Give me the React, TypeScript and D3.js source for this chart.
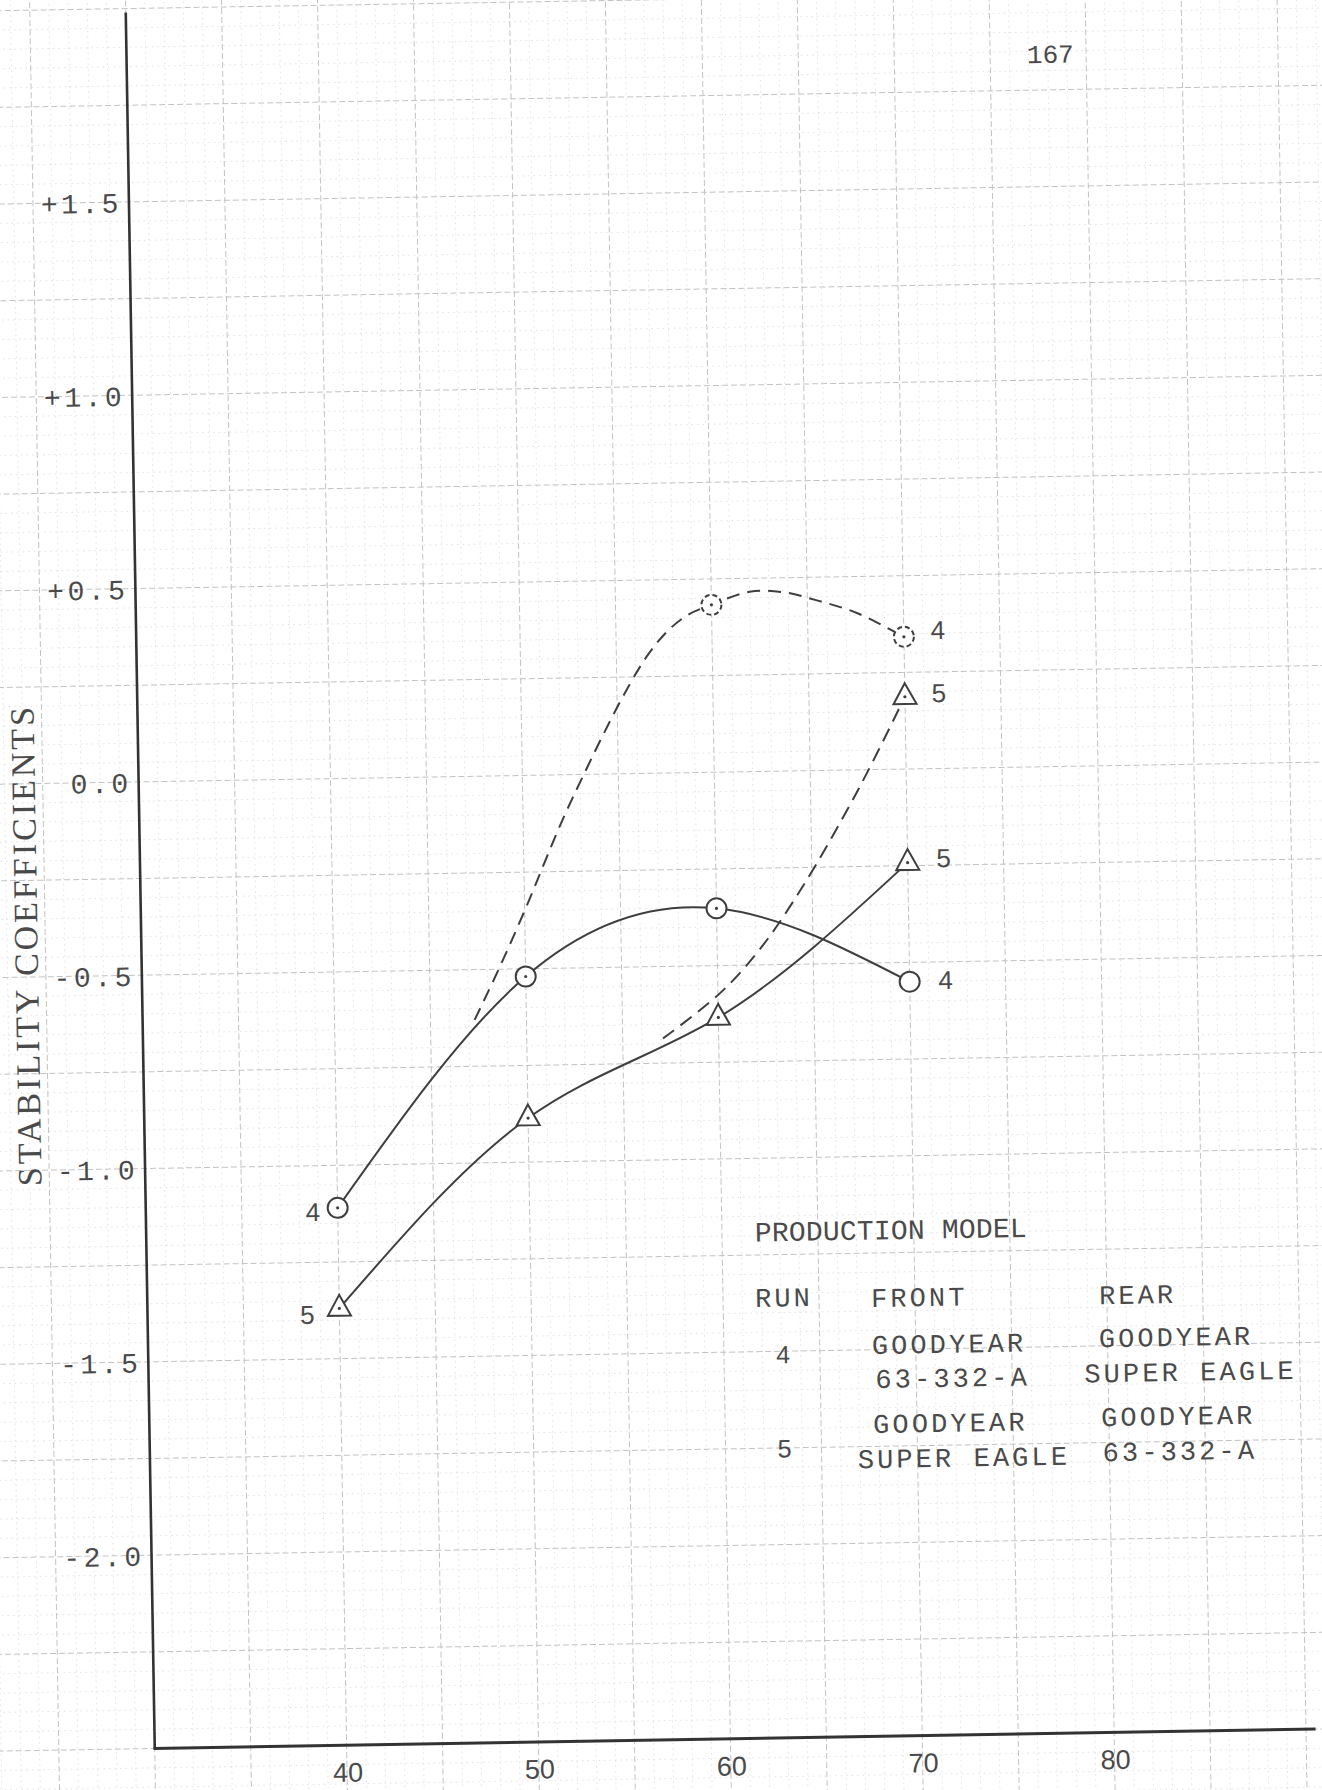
import React from 'react';
import * as d3 from 'd3';

// ---- data ----
const speeds = [40, 50, 60, 70];
const run4Solid = [-1.11, -0.52, -0.352, -0.55];
const run5Solid = [-1.37, -0.886, -0.634, -0.242];
const run4DashedSpeeds = [60, 70];
const run4Dashed = [0.433, 0.342];
const run5DashedSpeeds = [70];
const run5Dashed = [0.187];
// hand-faired dashed curves
const run4TraceX = [47.3, 48.6, 50, 52.6, 56.7, 58.5, 60, 62, 63.7, 65.5, 67.6, 70];
const run4TraceY = [-0.63, -0.5, -0.35, -0.06, 0.31, 0.4, 0.433, 0.465, 0.463, 0.44, 0.405, 0.342];
const run5TraceX = [57.1, 60.1, 62.2, 64.5, 67.5, 70];
const run5TraceY = [-0.686, -0.572, -0.461, -0.3, -0.05, 0.187];

const yTicks = [1.5, 1.0, 0.5, 0.0, -0.5, -1.0, -1.5, -2.0];
const yTickLabels = ['+1.5', '+1.0', '+0.5', '0.0', '-0.5', '-1.0', '-1.5', '-2.0'];
const xTicks = [40, 50, 60, 70, 80];
const xTickLabels = ['40', '50', '60', '70', '80'];
const yAxisTitle = 'STABILITY COEFFICIENTS';
const pageNumber = '167';
const legendTitle = 'PRODUCTION MODEL';
const legendHeaders = ['RUN', 'FRONT', 'REAR'];
const legendRuns = ['4', '5'];
const legendFront = [['GOODYEAR', '63-332-A'], ['GOODYEAR', 'SUPER EAGLE']];
const legendRear = [['GOODYEAR', 'SUPER EAGLE'], ['GOODYEAR', '63-332-A']];

const W = 1322;
const H = 1790;
const INK = '#3e3e3e';
const TEXT = '#4a4a4a';
const MONO = '"Liberation Mono", "DejaVu Sans Mono", monospace';
const HAND = '"Liberation Sans", "DejaVu Sans", sans-serif';

export default function App() {
  const x = d3.scaleLinear().domain([30, 90]).range([142.3, 1293.7]);
  const y = d3.scaleLinear().domain([-2.5, 2.0]).range([1743.45, 3.3]);

  const smooth = d3
    .line<[number, number]>()
    .x((d) => x(d[0]))
    .y((d) => y(d[1]))
    .curve(d3.curveNatural);
  const fair = d3
    .line<[number, number]>()
    .x((d) => x(d[0]))
    .y((d) => y(d[1]))
    .curve(d3.curveCatmullRom.alpha(0.5));

  const pts = (xs: number[], ys: number[]) => xs.map((v, i) => [v, ys[i]] as [number, number]);

  // graph paper grid
  const vLines: { u: number; major: boolean }[] = [];
  for (let i = 20; i <= 93; i++) vLines.push({ u: i, major: i % 5 === 0 });
  const hLines: { v: number; major: boolean }[] = [];
  for (let i = -55; i <= 45; i++) hLines.push({ v: i * 0.05, major: i % 5 === 0 });
  const gx0 = x(19), gx1 = x(93.5), gy0 = y(2.3), gy1 = y(-2.75);

  const circle = (cx: number, cy: number, key: string, dashed = false, dot = true) => (
    <g key={key}>
      <circle cx={cx} cy={cy} r={10} fill="#fff" stroke={INK} strokeWidth={2} strokeDasharray={dashed ? '5 3' : undefined} />
      {dot && <circle cx={cx} cy={cy} r={1.6} fill={INK} />}
    </g>
  );
  const tri = (cx: number, cy: number, key: string) => (
    <g key={key}>
      <path
        d={`M${cx},${cy - 13.5} L${cx - 11.5},${cy + 7.3} L${cx + 11.5},${cy + 7.3} Z`}
        fill="#fff"
        stroke={INK}
        strokeWidth={2}
        strokeLinejoin="miter"
      />
      <circle cx={cx} cy={cy} r={1.6} fill={INK} />
    </g>
  );

  const legendFontSize = 27;
  const legendLS = 3.1;

  return (
    <svg
      width={W}
      height={H}
      viewBox={`0 0 ${W} ${H}`}
      style={{ position: 'absolute', left: 0, top: 0, background: '#fff' }}
    >
      <rect x={0} y={0} width={W} height={H} fill="#fff" />
      <g transform="rotate(-0.957 450 1000)">
        {/* grid */}
        <g>
          {vLines.map((l) => (
            <line
              key={'v' + l.u}
              x1={x(l.u)}
              x2={x(l.u)}
              y1={gy0}
              y2={gy1}
              stroke={l.major ? '#c2c2c2' : '#dedede'}
              strokeWidth={l.major ? 1 : 0.9}
              strokeDasharray={l.major ? '6 3' : '1.5 4'}
            />
          ))}
          {hLines.map((l) => (
            <line
              key={'h' + l.v.toFixed(2)}
              x1={gx0}
              x2={gx1}
              y1={y(l.v)}
              y2={y(l.v)}
              stroke={l.major ? '#c2c2c2' : '#dedede'}
              strokeWidth={l.major ? 1 : 0.9}
              strokeDasharray={l.major ? '6 3' : '1.5 4'}
            />
          ))}
        </g>

        {/* axes */}
        <line x1={x(30)} x2={x(30)} y1={y(1.99)} y2={y(-2.5)} stroke="#333" strokeWidth={2.6} />
        <line x1={x(30) - 1.3} x2={x(90.5)} y1={y(-2.5)} y2={y(-2.5)} stroke="#333" strokeWidth={3} />

        {/* y tick labels */}
        {yTicks.map((t, i) => (
          <text
            key={'yt' + i}
            x={x(30) - 7}
            y={y(t) + 3}
            textAnchor="end"
            dominantBaseline="central"
            fontFamily={MONO}
            fontSize={28}
            letterSpacing={3.5}
            fill={TEXT}
          >
            {yTickLabels[i]}
          </text>
        ))}

        {/* x tick labels */}
        {xTicks.map((t, i) => (
          <text
            key={'xt' + i}
            x={x(t) + 1}
            y={1771}
            textAnchor="middle"
            dominantBaseline="central"
            fontFamily={HAND}
            fontSize={27}
            fill={TEXT}
          >
            {xTickLabels[i]}
          </text>
        ))}

        {/* y axis title */}
        <text
          transform={`translate(27, 938) rotate(-90)`}
          textAnchor="middle"
          dominantBaseline="central"
          fontFamily='"Liberation Serif", "DejaVu Serif", serif'
          fontSize={34}
          letterSpacing={3}
          fill={TEXT}
        >
          {yAxisTitle}
        </text>

        {/* page number */}
        <text x={1066} y={66} textAnchor="middle" dominantBaseline="central" fontFamily={MONO} fontSize={26} fill={TEXT}>
          {pageNumber}
        </text>

        {/* curves */}
        <path d={smooth(pts(speeds, run4Solid)) || ''} fill="none" stroke={INK} strokeWidth={2} />
        <path d={smooth(pts(speeds, run5Solid)) || ''} fill="none" stroke={INK} strokeWidth={2} />
        <path d={fair(pts(run4TraceX, run4TraceY)) || ''} fill="none" stroke={INK} strokeWidth={2} strokeDasharray="13 8" />
        <path d={fair(pts(run5TraceX, run5TraceY)) || ''} fill="none" stroke={INK} strokeWidth={2} strokeDasharray="14 8" />

        {/* markers */}
        {speeds.map((s, i) => circle(x(s), y(run4Solid[i]), 'c4' + i, false, i < 3))}
        {speeds.map((s, i) => tri(x(s), y(run5Solid[i]), 't5' + i))}
        {run4DashedSpeeds.map((s, i) => circle(x(s), y(run4Dashed[i]), 'cd4' + i, true, true))}
        {run5DashedSpeeds.map((s, i) => tri(x(s), y(run5Dashed[i]), 'td5' + i))}

        {/* run labels next to markers */}
        <g fontFamily={HAND} fontSize={26} fill={TEXT} dominantBaseline="central" textAnchor="middle">
          <text x={x(speeds[0]) - 25} y={y(run4Solid[0]) + 4}>{legendRuns[0]}</text>
          <text x={x(speeds[0]) - 32} y={y(run5Solid[0]) + 6}>{legendRuns[1]}</text>
          <text x={x(70) + 34} y={y(run4Dashed[1]) - 6}>{legendRuns[0]}</text>
          <text x={x(70) + 34} y={y(run5Dashed[0]) - 3}>{legendRuns[1]}</text>
          <text x={x(70) + 36} y={y(run5Solid[3]) - 4}>{legendRuns[1]}</text>
          <text x={x(70) + 36} y={y(run4Solid[3]) - 1}>{legendRuns[0]}</text>
        </g>

        {/* legend */}
        <g fontFamily={MONO} fill={TEXT} dominantBaseline="central">
          <text x={751} y={1239} fontSize={28} letterSpacing={0.2}>{legendTitle}</text>
          <g fontSize={legendFontSize} letterSpacing={legendLS}>
            <text x={750} y={1305}>{legendHeaders[0]}</text>
            <text x={866} y={1307}>{legendHeaders[1]}</text>
            <text x={1094} y={1308}>{legendHeaders[2]}</text>

            <text x={866} y={1354}>{legendFront[0][0]}</text>
            <text x={869} y={1388}>{legendFront[0][1]}</text>
            <text x={1093} y={1351}>{legendRear[0][0]}</text>
            <text x={1078} y={1386}>{legendRear[0][1]}</text>

            <text x={866} y={1433}>{legendFront[1][0]}</text>
            <text x={850} y={1468}>{legendFront[1][1]}</text>
            <text x={1094} y={1430}>{legendRear[1][0]}</text>
            <text x={1095} y={1465}>{legendRear[1][1]}</text>
          </g>
        </g>
        <g fontFamily={HAND} fontSize={25} fill={TEXT} dominantBaseline="central" textAnchor="middle">
          <text x={777} y={1360}>{legendRuns[0]}</text>
          <text x={777} y={1454}>{legendRuns[1]}</text>
        </g>
      </g>
    </svg>
  );
}
